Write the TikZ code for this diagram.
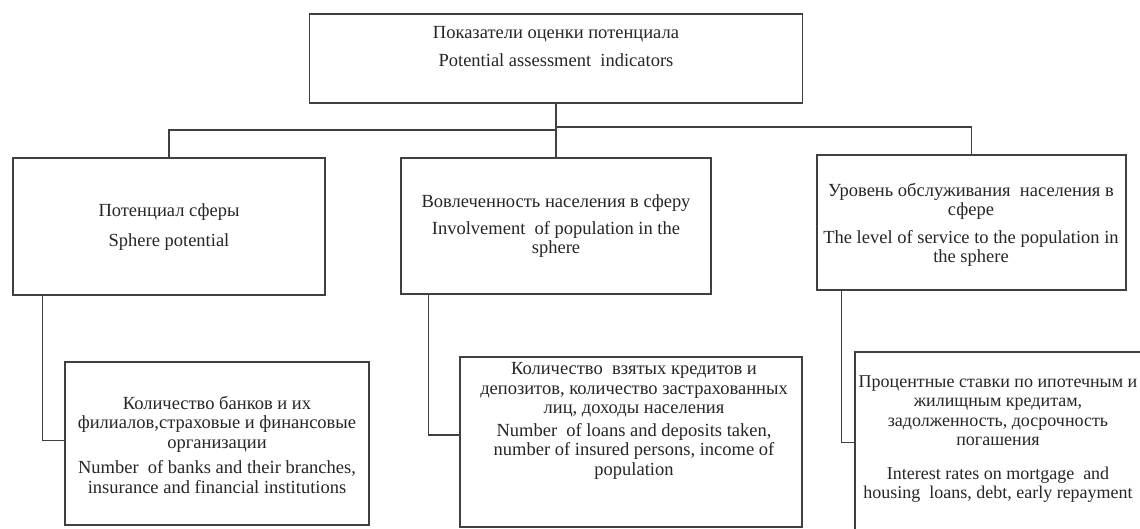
\documentclass[tikz,border=0pt]{standalone}
\usepackage{fontspec}
\setmainfont{Liberation Serif}
\begin{document}
\begin{tikzpicture}[x=1pt, y=-1pt,
    box node/.style={draw=black!75, line width=1.3pt, inner sep=0pt},
    text node/.style={align=center, text=black!85, font=\fontsize{18.5}{19.5}\selectfont},
    link/.style={draw=black!75, line width=1.3pt}]
  \fill[white] (0,0) rectangle (1140,528);
  \useasboundingbox (0,0) rectangle (1140,528);

  % boxes
  \node[box node, minimum width=493pt, minimum height=89pt] (top) at (556,58.5) {};
  \node[box node, minimum width=312pt, minimum height=137pt] (sphere) at (169,226.5) {};
  \node[box node, minimum width=310pt, minimum height=136pt] (involve) at (556,226) {};
  \node[box node, minimum width=309pt, minimum height=135pt] (service) at (971.5,222.5) {};
  \node[box node, minimum width=304pt, minimum height=163pt] (banks) at (217,443.5) {};
  \node[box node, minimum width=342pt, minimum height=170pt] (loans) at (631,442) {};
  \node[box node, minimum width=290pt, minimum height=193pt] (rates) at (1000,448.5) {};

  % texts
  \node[text node] (top t) at (556,47) {Показатели оценки потенциала\\[8.5pt]Potential\ assessment\ \ indicators};
  \node[text node] (sphere t) at (169,227) {Потенциал сферы\\[10pt]Sphere potential};
  \node[text node] (involve t) at (556,226.5) {Вовлеченность населения в сферу\\[7pt]Involvement\ \ of population in the\\sphere};
  \node[text node] (service t) at (971,225) {Уровень обслуживания\ \ населения в\\сфере\\[8pt]The level of service to the population in\\the sphere};
  \node[text node] (banks t) at (217,444.5) {Количество банков и их\\филиалов,страховые и финансовые\\организации\\[6pt]Number\ \ of banks and their branches,\\insurance and financial institutions};
  \node[text node] (loans t) at (634,421) {Количество\ \ взятых кредитов и\\депозитов, количество застрахованных\\лиц, доходы населения\\[3pt]Number\ \ of loans and deposits taken,\\number of insured persons, income of\\population};
  \node[text node, font=\fontsize{18}{19.5}\selectfont] (rates t) at (998,439) {Процентные ставки по ипотечным и\\жилищным кредитам,\\задолженность, досрочность\\погашения\\[14pt]Interest rates on mortgage\ \ and\\housing\ \ loans, debt, early repayment};

  % connectors
  \coordinate (split l) at (556,130);
  \coordinate (split r) at (556,127);
  \draw[link] (top.south) -- (involve.north);
  \draw[link] (split l) -| (sphere.north);
  \draw[link] (split r) -| (service.north);
  \draw[link] ([xshift=30pt]sphere.south west) |- ([yshift=3pt]banks.west);
  \draw[link] ([xshift=28pt]involve.south west) |- ([yshift=7pt]loans.west);
  \draw[link] ([xshift=25pt]service.south west) |- ([yshift=6pt]rates.west);
\end{tikzpicture}
\end{document}
